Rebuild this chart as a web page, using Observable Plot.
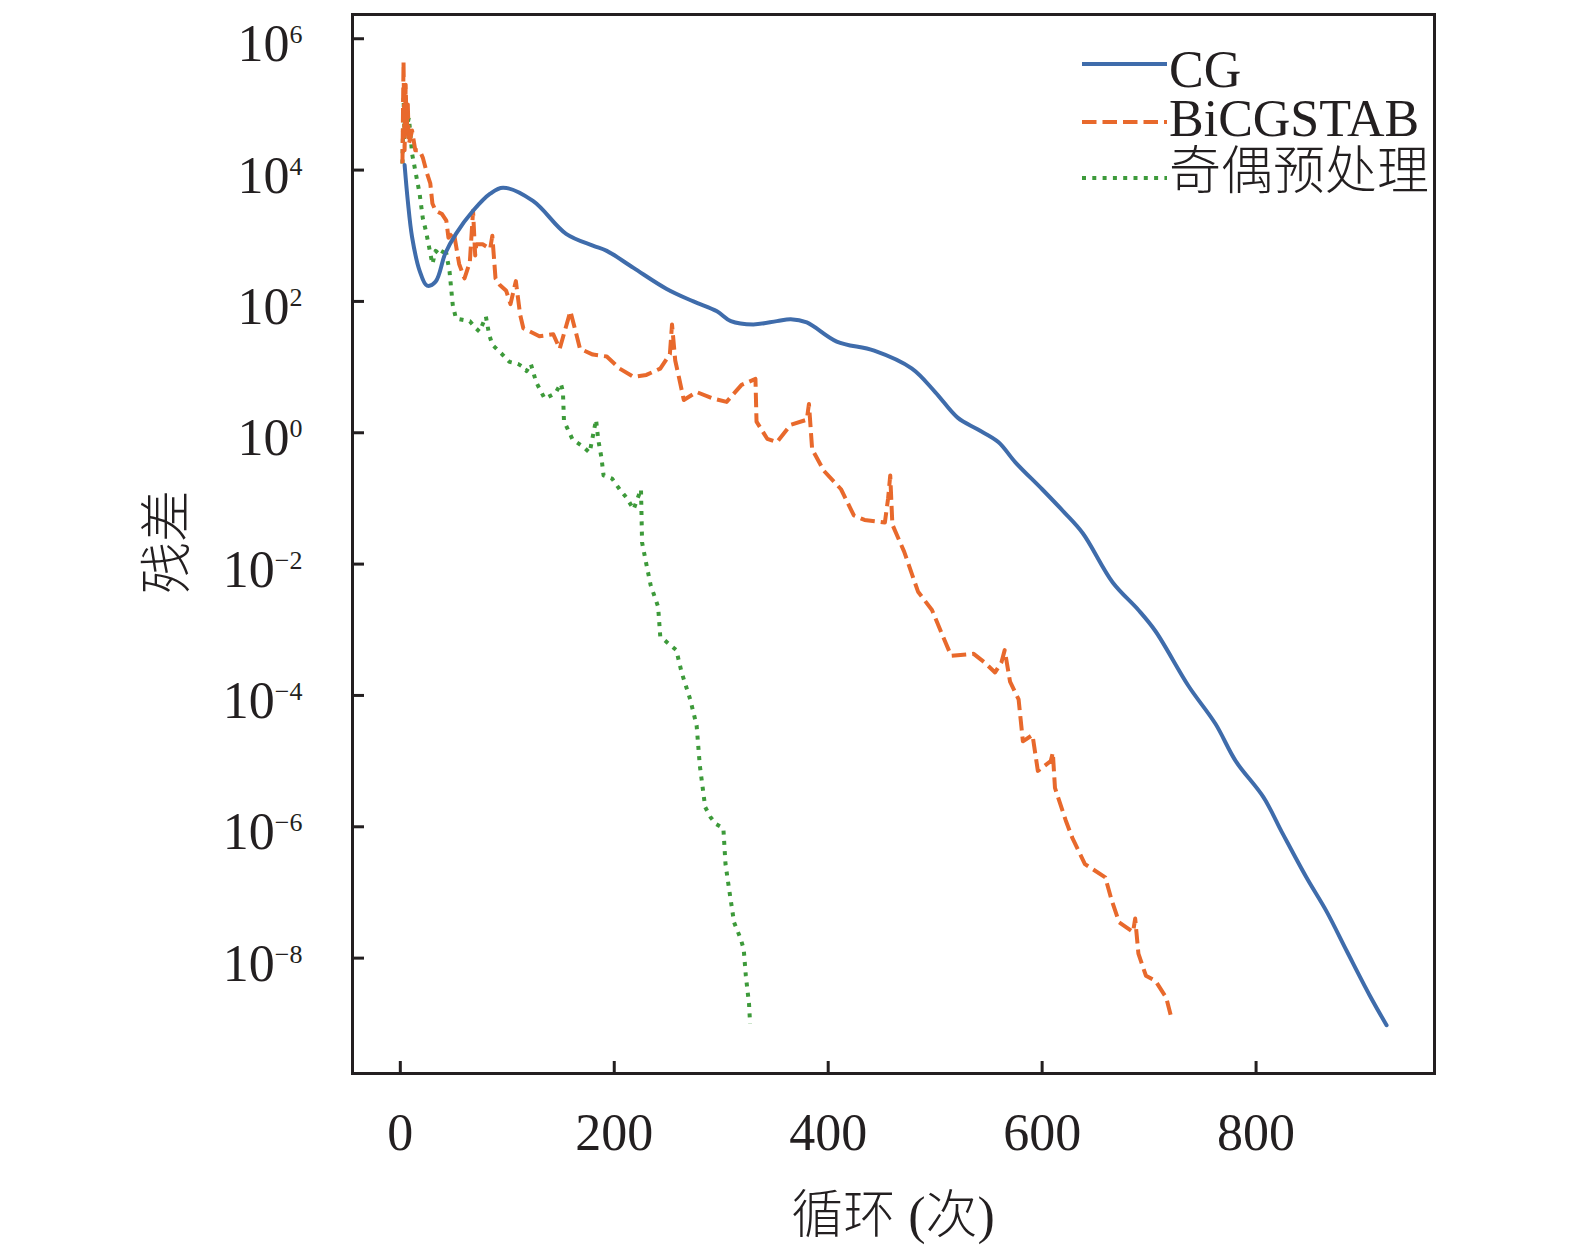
<!DOCTYPE html>
<html><head><meta charset="utf-8">
<script src="https://cdn.jsdelivr.net/npm/d3@7"></script>
<script src="https://cdn.jsdelivr.net/npm/@observablehq/plot@0.6"></script>
<style>
html,body{margin:0;padding:0;background:#fff;overflow:hidden;}
#chart{width:1575px;height:1247px;}
#chart svg{display:block;max-width:none !important;}
</style></head><body><div id="chart"></div>
<script>
// ---------- data ----------
const seriesNames = ["CG", "BiCGSTAB", "奇偶预处理"];
const xTicks = [0, 200, 400, 600, 800];
const yTicks = [1e6, 1e4, 1e2, 1e0, 1e-2, 1e-4, 1e-6, 1e-8];
const xTitle = "循环 (次)";
const yTitle = "残差";

const cgIter = [4,7,11,18,25,33,42,52,68,84,96,124,155,180,193,218,249,274,296,309,330,352,365,380,408,443,478,500,521,540,559,575,600,620,638,666,690,706,737,762,781,807,825,847,866,885,906,922];
const cgResid = [1.2e4,3.4e3,955,295,174,200,537,1.07e3,2.4e3,4.37e3,5.4e3,3.39e3,1.07e3,708,589,324,155,100,70.8,50.1,44.7,50.1,53.7,47.9,24.5,17.8,9.55,4.17,1.70,1.12,0.724,0.355,0.138,0.063,0.0295,0.00525,0.002,9.5e-4,1.38e-4,3.7e-5,1.0e-5,2.8e-6,7.8e-7,1.7e-7,5.1e-8,1.26e-8,2.75e-9,9.5e-10];

const biIter = [2,3,4,5,6,7,8,11,14,18,21,25,28,30,33,39,43,45,50,55,60,65,68,70,71,77,84,86,89,93,99,103,108,112,115,130,143,149,159,163,168,180,193,205,218,230,243,252,254,257,260,265,277,293,305,319,332,333,343,352,365,380,382,385,396,412,424,434,453,456,458,460,471,484,497,509,515,536,546,556,562,565,570,578,582,591,596,608,610,612,622,628,640,659,665,672,685,687,690,697,706,716,721];
const biResid = [1.26e4,4.47e5,2.0e4,2.0e5,4.0e4,1.0e5,2.5e4,4.0e4,2.0e4,2.0e4,1.55e4,8.9e3,6.3e3,3.1e3,2.4e3,2.14e3,1.7e3,933,1.12e3,372,224,398,2.4e3,501,741,741,631,1.0e3,224,178,145,91,204,63,39,29.5,31.6,19,70.8,39.8,19,15.5,14.5,9.5,7.1,7.6,9.5,15.8,44.7,12.6,7.6,3.16,4.17,3.3,2.95,5.37,6.6,1.48,0.81,0.72,1.32,1.58,2.75,0.56,0.263,0.138,0.055,0.047,0.043,0.1,0.224,0.04,0.0155,0.0038,0.002,6.8e-4,4.0e-4,4.3e-4,3.2e-4,2.24e-4,3.2e-4,4.9e-4,1.62e-4,8.7e-5,2.0e-5,2.5e-5,7.1e-6,1.0e-5,1.35e-5,3.9e-6,1.26e-6,6.9e-7,2.7e-7,1.7e-7,7.6e-8,3.5e-8,2.5e-8,4.0e-8,1.17e-8,5.4e-9,4.5e-9,2.5e-9,1.2e-9];

const oeIter = [2,3,4,5,6,8,10,11,18,21,24,30,33,38,42,46,49,52,58,65,70,74,80,83,86,95,102,110,115,118,122,127,135,145,150,152,153,161,170,177,183,185,188,190,198,205,212,218,225,226,230,234,241,243,250,258,263,271,277,280,285,290,295,302,304,307,312,318,321,323,326,327];
const oeResid = [1.26e4,1.29e5,3.16e4,7.9e4,4.5e4,6.3e4,2.8e4,1.78e4,4.4e3,1.86e3,1.17e3,372,589,501,661,288,89,55,52.5,50,39.8,34.7,58.9,31.6,21.9,15.8,12,11.2,10,8.7,11.2,5.9,3.3,4.0,5.6,4.3,1.51,0.79,0.63,0.5,1.58,0.79,0.42,0.224,0.2,0.138,0.1,0.068,0.138,0.0214,0.01,0.0048,0.00224,7.9e-4,6.3e-4,4.9e-4,2.24e-4,8.7e-5,3.5e-5,8.5e-6,2.0e-6,1.4e-6,1.1e-6,9.5e-7,2.7e-7,1.23e-7,3.5e-8,2.0e-8,1.38e-8,5.4e-9,2.0e-9,1.0e-9];

// ---------- styles ----------
const COLORS = ["#3f6cab", "#e8692c", "#3d9a3a"];
const DASHES = [null, "14.5,6", "4,6.3"];
const LW = 4;
const INK = "#231f20";
const FONT = "'Liberation Serif','Times New Roman','Noto Sans CJK SC',serif";
const FS = 52;
const CJK_WEIGHT = 300;

const rows = (xs, ys) => xs.map((x, i) => ({x, y: ys[i]}));
const cgRows = rows(cgIter, cgResid);
const biRows = rows(biIter, biResid);
const oeRows = rows(oeIter, oeResid);

const W = 1575, H = 1247, ML = 352, MR = 141, MT = 14, MB = 174;

const chart = Plot.plot({
  width: W, height: H,
  marginLeft: ML, marginRight: MR, marginTop: MT, marginBottom: MB,
  style: {fontFamily: FONT, fontSize: FS + "px", color: INK, background: "#fff"},
  x: {domain: [-44.7, 966.8]},
  y: {type: "log", domain: [1.75e-10, 2.34e6]},
  marks: [
    Plot.line(oeRows, {x: "x", y: "y", stroke: COLORS[2], strokeWidth: LW, strokeDasharray: DASHES[2], strokeLinecap: "butt"}),
    Plot.line(biRows, {x: "x", y: "y", stroke: COLORS[1], strokeWidth: LW, strokeDasharray: DASHES[1], strokeLinecap: "butt"}),
    Plot.line(cgRows, {x: "x", y: "y", stroke: COLORS[0], strokeWidth: LW, curve: "catmull-rom"}),
    Plot.frame({stroke: INK, strokeWidth: 3}),
    Plot.tickX(xTicks, {x: d => d, stroke: INK, strokeWidth: 3, insetTop: (H - MT - MB) - 12}),
    Plot.tickY(yTicks, {y: d => d, stroke: INK, strokeWidth: 3, insetRight: (W - ML - MR) - 12}),
    Plot.axisX({ticks: xTicks, tickSize: 0, tickPadding: 40, fontSize: FS, label: null, tickFormat: d => String(d), fill: INK}),
    Plot.axisY({ticks: yTicks, tickSize: 0, tickPadding: 50, fontSize: FS, label: null, dy: 6, fill: INK,
      tickFormat: d => String(Math.round(Math.log10(d)))})
  ]
});

document.getElementById("chart").appendChild(chart);
const svg = d3.select(chart);

// superscript exponents on y tick labels
svg.selectAll('g[aria-label="y-axis tick label"] text').each(function () {
  const t = d3.select(this);
  const e = t.text().replace("-", "\u2212");
  t.text("");
  t.append("tspan").text("10");
  t.append("tspan").attr("font-size", 26).attr("dy", -18).text(e);
});

// axis titles
svg.append("text").attr("transform", "translate(185,542) rotate(-90)")
  .attr("text-anchor", "middle").attr("font-family", FONT).attr("font-size", FS)
  .attr("font-weight", CJK_WEIGHT).attr("fill", INK).text(yTitle);
svg.append("text").attr("x", (ML + W - MR) / 2).attr("y", 1233)
  .attr("text-anchor", "middle").attr("font-family", FONT).attr("font-size", FS)
  .attr("font-weight", CJK_WEIGHT).attr("fill", INK).text(xTitle);

// legend (inside frame, top right)
const lg = svg.append("g").attr("font-family", FONT).attr("font-size", FS).attr("fill", INK).attr("text-anchor", "start");
const lineY = [64, 122, 178];
const textY = [87, 136, 189];
seriesNames.forEach((name, i) => {
  const ln = lg.append("line").attr("x1", 1082).attr("x2", 1167).attr("y1", lineY[i]).attr("y2", lineY[i])
    .attr("stroke", COLORS[i]).attr("stroke-width", LW).attr("stroke-linecap", "butt");
  if (DASHES[i]) ln.attr("stroke-dasharray", DASHES[i]);
  const tx = lg.append("text").attr("x", 1169).attr("y", textY[i]).text(name);
  if (i === 2) tx.attr("font-weight", CJK_WEIGHT);
});
</script>
</body></html>
